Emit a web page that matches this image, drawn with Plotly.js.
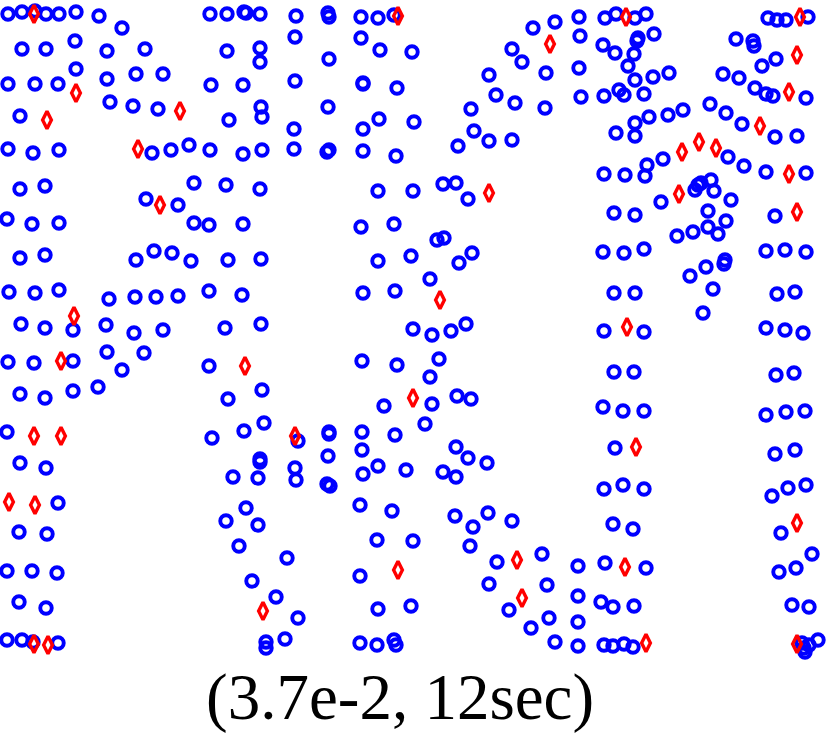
<!DOCTYPE html>
<html>
<head>
<meta charset="utf-8">
<script src="https://cdn.plot.ly/plotly-3.0.1.min.js"></script>
<style>html,body{margin:0;padding:0;background:#fff}</style>
</head>
<body>
<div id="chart" style="width:830px;height:740px"></div>
<script>
const chartTitle = "(3.7e-2, 12sec)";

const circleX = [
8,22,35,46,59,76,99,122,210,227,244,246,260,
22,46,75,107,145,227,260,260,
8,35,58,76,107,136,163,211,243,
20,110,133,158,229,261,262,
8,33,59,152,171,189,210,243,262,
20,45,194,226,260,146,178,
7,32,59,194,209,243,
20,45,136,154,172,191,228,261,
9,35,59,109,135,156,178,209,242,
21,45,73,106,134,163,225,261,
8,34,73,107,144,122,209,
20,45,73,98,228,262,
7,212,244,264,
20,46,260,260,233,258,
58,246,226,258,
19,47,239,
7,32,57,252,276,
19,46,
7,22,33,58,266,266,285,
296,328,329,361,378,394,533,555,
295,361,380,412,329,512,522,489,546,
295,363,363,397,496,515,471,545,
328,294,363,379,414,474,489,512,458,
294,329,327,363,396,
378,413,443,456,468,
361,394,437,444,378,411,459,472,
430,363,395,
413,432,451,466,
362,397,439,430,384,432,457,471,425,
298,329,329,362,395,
328,362,456,468,487,
295,296,327,330,363,378,406,443,456,
360,392,455,473,488,512,
377,413,470,
287,497,542,
360,489,547,
298,509,549,531,378,411,
360,377,394,396,555,
579,605,616,635,646,
580,603,615,638,637,634,654,
628,579,635,653,669,
581,604,619,624,644,
710,726,742,775,797,
683,668,649,635,635,616,
663,647,645,604,625,728,744,766,806,
711,701,698,695,714,731,661,
614,635,708,726,775,
708,718,693,677,
603,624,644,766,785,806,
725,724,706,690,713,703,
614,635,777,795,
604,644,766,785,803,
768,777,786,808,
736,753,754,776,762,
723,739,755,766,773,806,
614,634,776,794,
603,623,644,766,786,805,
615,775,795,
604,623,644,772,788,806,
613,633,781,
578,605,646,779,796,812,
578,601,613,634,792,809,
578,578,604,613,624,633,
802,809,804,805,818
];

const circleY = [
14,12,11,14,14,12,16,28,14,14,12,13,14,
49,49,41,51,49,51,48,62,
84,84,84,69,79,74,74,85,85,
116,102,106,109,120,107,117,
149,153,150,153,150,145,150,154,150,
189,186,183,185,189,199,205,
219,224,223,223,225,224,
258,255,260,251,253,261,260,259,
292,293,290,299,297,297,296,291,295,
324,328,330,325,333,330,328,324,
362,363,361,352,353,370,366,
394,398,391,387,399,390,
432,438,431,423,
463,468,459,462,477,478,
503,508,521,525,
532,534,546,
571,571,573,581,597,
602,608,
640,640,642,643,642,648,639,
16,13,17,17,18,15,28,22,
37,38,50,52,59,49,62,75,73,
81,83,84,88,95,103,109,108,
107,129,129,119,122,131,141,140,146,
149,150,152,151,156,
191,191,184,183,199,
227,224,240,238,261,256,263,253,
279,293,291,
329,335,331,324,
361,365,359,377,406,404,396,399,424,
441,432,434,432,435,
456,450,447,458,463,
468,480,484,486,474,466,470,472,477,
505,511,516,527,513,521,
540,541,546,
558,562,554,
576,584,585,
618,610,618,628,609,606,
643,645,640,645,642,
17,18,14,18,14,
36,45,53,38,41,54,34,
66,68,80,77,73,
97,96,90,95,94,
104,113,124,137,136,
110,115,117,123,136,133,
159,165,176,174,175,157,166,172,173,
180,183,185,190,191,200,202,
213,215,211,221,216,
227,234,232,236,
252,253,249,251,250,252,
260,264,267,276,289,313,
293,293,294,292,
331,332,328,330,333,
18,20,20,17,
39,41,46,59,66,
74,78,88,94,96,98,
372,372,375,373,
407,411,411,415,412,411,
448,454,450,
489,485,489,496,488,485,
524,529,533,
566,563,568,572,568,554,
596,602,607,606,605,607,
622,646,645,646,644,647,
643,645,648,652,640
];

const diamondX = [34,76,47,180,138,160,74,61,245,34,61,9,35,263,34,48,398,550,489,440,413,295,517,398,522,626,760,682,699,716,789,679,797,627,800,797,789,636,797,625,646,797];
const diamondY = [14,93,120,111,149,205,316,361,366,436,436,502,505,611,644,645,16,44,193,300,398,436,560,570,598,17,126,152,142,148,174,194,212,327,17,55,92,447,523,567,643,644];

const circles = {
  type: "scatter", mode: "markers", x: circleX, y: circleY, cliponaxis: false, hoverinfo: "skip",
  marker: {symbol: "circle-open", size: 11.5, color: "#0000ff", line: {width: 3.9, color: "#0000ff"}}
};
const diamonds = {
  type: "scatter", mode: "markers", x: diamondX, y: diamondY, cliponaxis: false, hoverinfo: "skip",
  marker: {symbol: "diamond-tall-open", size: 12.5, color: "#ff0000", line: {width: 3.4, color: "#ff0000"}}
};

const hiddenAxis = {visible: false, showgrid: false, zeroline: false, fixedrange: true};

Plotly.newPlot("chart", [circles, diamonds], {
  width: 830, height: 740,
  margin: {l: 0, r: 0, t: 0, b: 0},
  paper_bgcolor: "#fff", plot_bgcolor: "#fff",
  showlegend: false,
  title: {
    text: chartTitle, x: 0.482, xanchor: "center", y: 0.0595, yanchor: "middle",
    font: {family: "Liberation Serif, serif", size: 65, color: "#000"}
  },
  xaxis: Object.assign({range: [0, 830]}, hiddenAxis),
  yaxis: Object.assign({range: [740, 0]}, hiddenAxis)
}, {displayModeBar: false, staticPlot: true});
</script>
</body>
</html>
